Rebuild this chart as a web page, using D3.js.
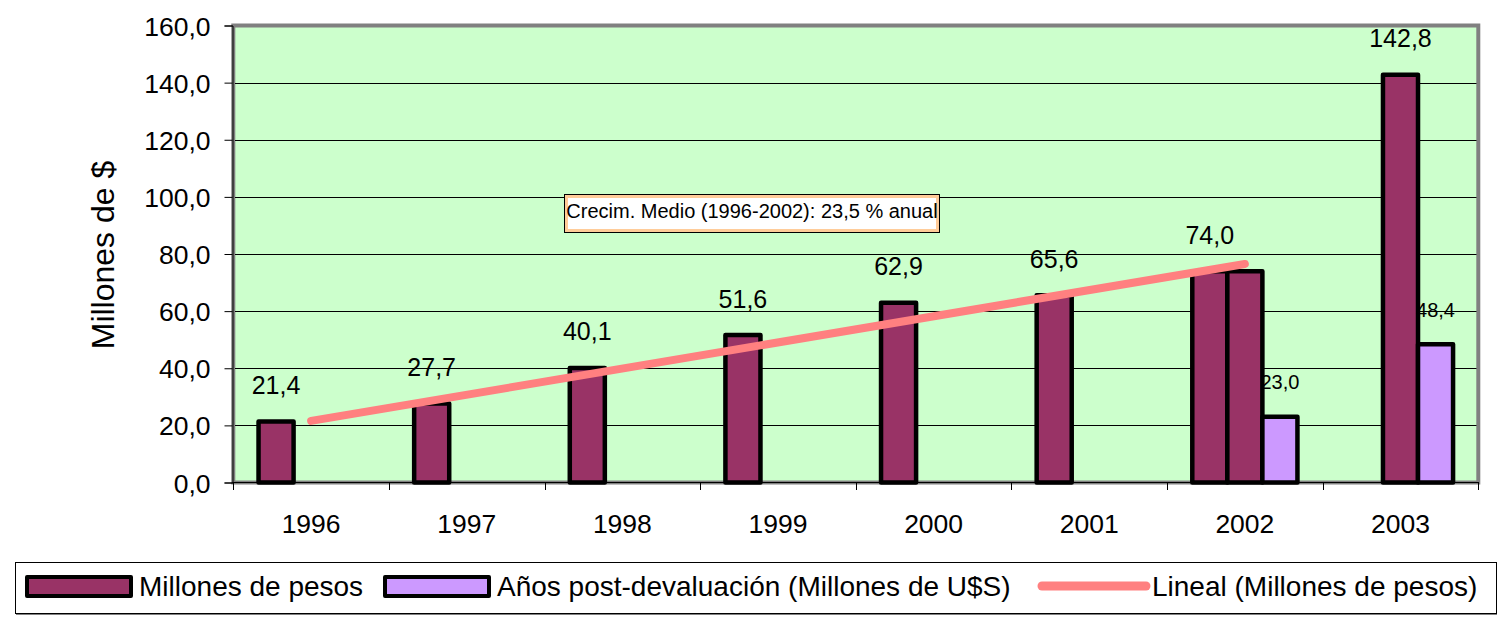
<!DOCTYPE html>
<html>
<head>
<meta charset="utf-8">
<script src="https://cdn.jsdelivr.net/npm/d3@7"></script>
<style>
  body { margin: 0; background: #fff; }
  text { font-family: "Liberation Sans", Arial, sans-serif; fill: #000; }
</style>
</head>
<body>
<div id="chart"></div>
<script>
// chart values
const years = ['1996', '1997', '1998', '1999', '2000', '2001', '2002', '2003'];
const pesos = [21.4, 27.7, 40.1, 51.6, 62.9, 65.6, 74.0, null];
const pesosPost = [null, null, null, null, null, null, 74.0, 142.8];
const dolares = [null, null, null, null, null, null, 23.0, 48.4];
const yTicks = [0, 20, 40, 60, 80, 100, 120, 140, 160];
const trendYears = ['1996', '2002'];
const noteText = 'Crecim. Medio (1996-2002): 23,5 % anual';
const legendLabels = ['Millones de pesos', 'Años post-devaluación (Millones de U$S)', 'Lineal (Millones de pesos)'];

const width = 1506, height = 621;
const colors = { plot: '#CCFFCC', pesos: '#993366', usd: '#CC99FF', trend: '#FF8080', frame: '#808080' };

const locale = d3.formatLocale({ decimal: ',', thousands: '.', grouping: [3], currency: ['$', ''] });
const fmt = locale.format('.1f');

const svg = d3.select('#chart').append('svg')
  .attr('width', width)
  .attr('height', height);

const x0 = d3.scaleBand().domain(years).range([233.3, 1478.3]).padding(0);
const x1 = d3.scaleBand().domain([0, 1, 2]).range([0, x0.bandwidth()]).paddingOuter(0.72).paddingInner(0);
const y = d3.scaleLinear().domain([0, 160]).range([482.5, 25.5]);

// plot area
svg.append('rect')
  .attr('x', 233.3).attr('y', 25.5)
  .attr('width', 1478.3 - 233.3).attr('height', 482.5 - 25.5)
  .attr('fill', colors.plot)
  .attr('stroke', colors.frame)
  .attr('stroke-width', 4);

// grid
svg.append('g').selectAll('line')
  .data(yTicks.filter(d => d > 0 && d < 160))
  .join('line')
    .attr('x1', 235).attr('x2', 1476.5)
    .attr('y1', d => Math.round(y(d)) + 0.5)
    .attr('y2', d => Math.round(y(d)) + 0.5)
    .attr('stroke', '#000')
    .attr('stroke-width', 1);

// y axis
const yAxis = svg.append('g')
  .attr('transform', 'translate(232.5,0)')
  .call(d3.axisLeft(y).tickValues(yTicks).tickSize(8).tickPadding(14).tickFormat(fmt));
yAxis.select('.domain').attr('stroke', '#000');
yAxis.selectAll('.tick line').attr('stroke', '#000');
yAxis.selectAll('text').style('font-size', '26.5px').attr('font-family', null).attr('dy', '0.36em');

// x axis
svg.append('line')
  .attr('x1', 232.5).attr('x2', 1479)
  .attr('y1', 482.5).attr('y2', 482.5)
  .attr('stroke', '#000');
svg.append('g').selectAll('line')
  .data(years.map(d => x0(d)).concat([x0.range()[1]]))
  .join('line')
    .attr('x1', d => Math.round(d) + 0.5).attr('x2', d => Math.round(d) + 0.5)
    .attr('y1', 482.5).attr('y2', 490)
    .attr('stroke', '#000');
svg.append('g').selectAll('text')
  .data(years)
  .join('text')
    .attr('x', d => x0(d) + x0.bandwidth() / 2)
    .attr('y', 533)
    .attr('text-anchor', 'middle')
    .style('font-size', '26.5px')
    .text(d => d);

// axis title
svg.append('text')
  .attr('transform', 'translate(114,255) rotate(-90)')
  .attr('text-anchor', 'middle')
  .style('font-size', '32px')
  .text('Millones de $');

// bars
const series = [
  { slot: 0, values: pesos, color: colors.pesos, labelSize: 25, label: i => true },
  { slot: 1, values: pesosPost, color: colors.pesos, labelSize: 25, label: i => pesos[i] == null },
  { slot: 2, values: dolares, color: colors.usd, labelSize: 20, label: i => true }
];

series.forEach(s => {
  const pts = years.map((yr, i) => ({ yr, v: s.values[i], i })).filter(d => d.v != null);
  svg.append('g').selectAll('rect')
    .data(pts)
    .join('rect')
      .attr('x', d => x0(d.yr) + x1(s.slot))
      .attr('y', d => y(d.v))
      .attr('width', x1.bandwidth())
      .attr('height', d => y(0) - y(d.v))
      .attr('fill', s.color)
      .attr('stroke', '#000')
      .attr('stroke-width', 4.5)
      .attr('stroke-linejoin', 'round');
});

// linear trend (least squares over 1996-2002)
const fitVals = pesos.filter(v => v != null);
const xs = fitVals.map((v, i) => i + 1);
const mx = d3.mean(xs), my = d3.mean(fitVals);
const slope = d3.sum(xs, (xv, i) => (xv - mx) * (fitVals[i] - my)) / d3.sum(xs, xv => (xv - mx) * (xv - mx));
const icpt = my - slope * mx;
const trendPts = trendYears.map(yr => {
  const k = years.indexOf(yr) + 1;
  return [x0(yr) + x0.bandwidth() / 2, y(icpt + slope * k)];
});
svg.append('path')
  .attr('d', d3.line()(trendPts))
  .attr('stroke', colors.trend)
  .attr('stroke-width', 8)
  .attr('stroke-linecap', 'round')
  .attr('fill', 'none');

// data labels
series.forEach(s => {
  const pts = years.map((yr, i) => ({ yr, v: s.values[i], i })).filter(d => d.v != null && s.label(d.i));
  svg.append('g').selectAll('text')
    .data(pts)
    .join('text')
      .attr('x', d => x0(d.yr) + x1(s.slot) + x1.bandwidth() / 2)
      .attr('y', d => y(d.v) - 27.5)
      .attr('text-anchor', 'middle')
      .style('font-size', s.labelSize + 'px')
      .text(d => fmt(d.v));
});

// note box
const note = svg.append('g').attr('transform', 'translate(564.5,194.5)');
note.append('rect').attr('width', 375).attr('height', 38).attr('fill', '#fff').attr('stroke', '#000');
note.append('rect').attr('x', 2).attr('y', 2).attr('width', 371).attr('height', 34)
  .attr('fill', 'none').attr('stroke', '#FFCC99').attr('stroke-width', 3);
note.append('text')
  .attr('x', 187.5).attr('y', 23.5)
  .attr('text-anchor', 'middle')
  .style('font-size', '20px')
  .text(noteText);

// legend
const legend = svg.append('g');
legend.append('rect')
  .attr('x', 15.5).attr('y', 562.5).attr('width', 1481).attr('height', 51)
  .attr('fill', '#fff').attr('stroke', '#000');
legend.append('line')
  .attr('x1', 16).attr('x2', 1497).attr('y1', 614.5).attr('y2', 614.5)
  .attr('stroke', colors.frame);

const legendItems = [
  { x: 27, kind: 'bar', color: colors.pesos },
  { x: 385, kind: 'bar', color: colors.usd },
  { x: 1039, kind: 'line', color: colors.trend }
];
legendItems.forEach((it, i) => {
  if (it.kind === 'bar') {
    legend.append('rect')
      .attr('x', it.x).attr('y', 577).attr('width', 104).attr('height', 19)
      .attr('fill', it.color).attr('stroke', '#000').attr('stroke-width', 4)
      .attr('stroke-linejoin', 'round');
  } else {
    legend.append('line')
      .attr('x1', it.x + 3).attr('x2', it.x + 107)
      .attr('y1', 586).attr('y2', 586)
      .attr('stroke', it.color).attr('stroke-width', 9).attr('stroke-linecap', 'round');
  }
  legend.append('text')
    .attr('x', it.kind === 'bar' ? it.x + 112 : it.x + 113)
    .attr('y', 596)
    .style('font-size', '28px')
    .text(legendLabels[i]);
});
</script>
</body>
</html>
